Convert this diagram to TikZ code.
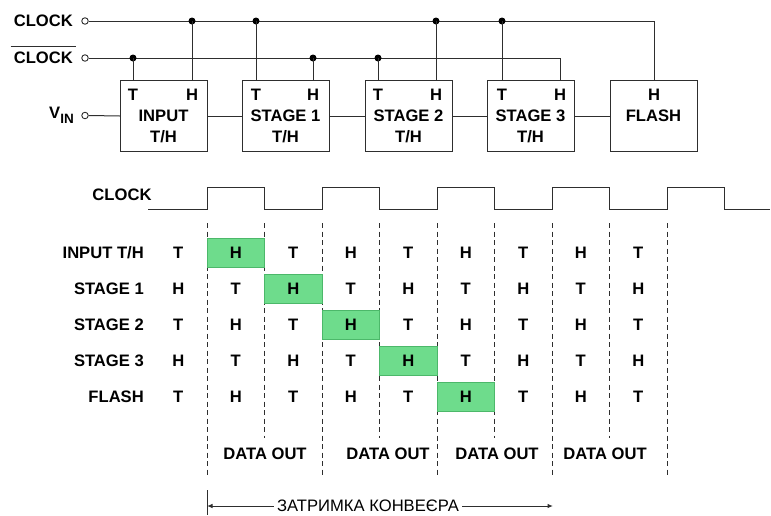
\documentclass[tikz,border=0pt]{standalone}
\usepackage{fontspec}
\setmainfont{Liberation Sans}
\usetikzlibrary{arrows.meta}
\definecolor{hold}{HTML}{6EDC8C}
\definecolor{holdline}{HTML}{4CB86A}
\definecolor{wirec}{HTML}{2E2E2E}
\begin{document}
\begin{tikzpicture}[x=1pt,y=-1pt,
  lbl/.style={inner sep=0pt, font=\fontsize{16.6}{19}\selectfont\bfseries, text height=11.8pt, text depth=0pt},
  plain/.style={inner sep=0pt, font=\fontsize{16.6}{19}\selectfont, text height=11.8pt, text depth=0pt},
  blk/.style={draw=wirec, line width=1pt, minimum width=87pt, minimum height=71pt, inner sep=0pt, anchor=north west},
  wire/.style={draw=wirec, line width=1pt},
  term/.style={circle, draw=wirec, line width=0.9pt, fill=white, minimum size=6.5pt, inner sep=0pt},
  jdot/.style={circle, fill=black, minimum size=7pt, inner sep=0pt},
  cell/.style={lbl, minimum width=57.5pt, minimum height=29pt},
  hl/.style={fill=hold, draw=holdline, line width=0.8pt},
  grid/.style={draw=wirec, line width=0.9pt, dash pattern=on 5pt off 3.5pt},
  tip/.style={-{Latex[length=5.5pt,width=4.5pt]}}
]
\useasboundingbox (0,0) rectangle (771,515);

% ---------- block diagram ----------
\node[lbl, anchor=east] (lclk) at (73,21) {CLOCK};
\node[lbl, anchor=east] (lclkb) at (73,58) {CLOCK};
\draw[wirec, line width=1pt] ([shift={(-3pt,5pt)}]lclkb.north west) -- ([shift={(3pt,5pt)}]lclkb.north east);
\node[lbl, anchor=east] (lvin) at (74,113) {V\raisebox{-5pt}{\fontsize{13.5}{15}\selectfont IN}};

\node[term] (tclk) at (85,21) {};
\node[term] (tclkb) at (85,58) {};
\node[term] (tvin) at (85,115.5) {};

\node[blk] (in) at (120,80) {};
\node[blk] (s1) at (242,80) {};
\node[blk] (s2) at (365,80) {};
\node[blk] (s3) at (487,80) {};
\node[blk] (fl) at (610,80) {};

% pins
\coordinate (inT) at (133,80);  \coordinate (inH) at (192,80);
\coordinate (s1T) at (256,80);  \coordinate (s1H) at (313,80);
\coordinate (s2T) at (378,80);  \coordinate (s2H) at (436,80);
\coordinate (s3T) at (502,80);  \coordinate (s3H) at (560,80);
\coordinate (flH) at (fl.north);

% pin labels
\foreach \p/\t in {inT/T, inH/H, s1T/T, s1H/H, s2T/T, s2H/H, s3T/T, s3H/H, flH/H}
  \node[lbl] (p\p) at ([yshift=-15pt]\p) {\t};

% block names
\node[lbl] (nin1) at (163.5,116) {INPUT};   \node[lbl] (nin2) at (163.5,137) {T/H};
\node[lbl] (ns11) at (285.5,116) {STAGE 1}; \node[lbl] (ns12) at (285.5,137) {T/H};
\node[lbl] (ns21) at (408.5,116) {STAGE 2}; \node[lbl] (ns22) at (408.5,137) {T/H};
\node[lbl] (ns31) at (530.5,116) {STAGE 3}; \node[lbl] (ns32) at (530.5,137) {T/H};
\node[lbl] (nfl) at (653.5,116) {FLASH};

% clock buses
\draw[wire] (tclk.east) -- (flH |- tclk) -- (flH);
\draw[wire] (tclkb.east) -- (s3H |- tclkb) -- (s3H);

% junctions
\foreach \n/\pin in {dA/inH, dB/s1T, dC/s2H, dD/s3T}{
  \node[jdot] (\n) at (\pin |- tclk) {};
  \draw[wire] (\n.center) -- (\pin);
}
\foreach \n/\pin in {dE/inT, dF/s1H, dG/s2T}{
  \node[jdot] (\n) at (\pin |- tclkb) {};
  \draw[wire] (\n.center) -- (\pin);
}

% signal chain
\draw[wire] (tvin.east) -- (in.west);
\draw[wire] (in.east) -- (s1.west);
\draw[wire] (s1.east) -- (s2.west);
\draw[wire] (s2.east) -- (s3.west);
\draw[wire] (s3.east) -- (fl.west);

% ---------- timing diagram ----------
\node[lbl] (tclklbl) at (122,195) {CLOCK};
\draw[wire] (148,209) -| (207,187) -| (264.5,209) -| (322,187) -| (379.5,209)
  -| (437,187) -| (494.5,209) -| (552,187) -| (609.5,209) -| (667,187) -| (724.5,209) -- (770,209);

% dashed grid
\foreach \k in {0,...,8}{
  \pgfmathsetmacro{\xx}{207+57.5*\k}
  \pgfmathsetmacro{\yy}{mod(\k,2)==0 ? 477 : 438}
  \draw[grid] (\xx,223) -- (\xx,\yy);
}

% row labels
\foreach \r/\name in {0/{INPUT T/H}, 1/{STAGE 1}, 2/{STAGE 2}, 3/{STAGE 3}, 4/{FLASH}}
  \node[lbl, anchor=east] (row\r) at (144,252.5+36*\r) {\name};

% cells
\foreach \r in {0,...,4}{
  \foreach \c in {0,...,8}{
    \pgfmathtruncatemacro{\pty}{mod(\r+\c,2)}
    \pgfmathtruncatemacro{\hi}{\c==\r+1 ? 1 : 0}
    \ifnum\hi=1
      \node[cell, hl] (c-\r-\c) at (178.25+57.5*\c, 252.5+36*\r) {H};
    \else
      \ifnum\pty=0
        \node[cell] (c-\r-\c) at (178.25+57.5*\c, 252.5+36*\r) {T};
      \else
        \node[cell] (c-\r-\c) at (178.25+57.5*\c, 252.5+36*\r) {H};
      \fi
    \fi
  }
}

% data out
\node[lbl] (do1) at (265,454) {DATA OUT};
\node[lbl] (do2) at (388,454) {DATA OUT};
\node[lbl] (do3) at (497,454) {DATA OUT};
\node[lbl] (do4) at (605,454) {DATA OUT};

% pipeline delay
\node[plain, inner xsep=3pt] (pd) at (368,506) {ЗАТРИМКА КОНВЕЄРА};
\coordinate (pdL) at (207,506);
\coordinate (pdR) at (553,506);
\coordinate (tickA) at (207,490);
\coordinate (tickB) at (207,515);
\draw[wire] (tickA) -- (tickB);
\draw[wire, tip] (pd.west) -- (pdL);
\draw[wire, tip] (pd.east) -- (pdR);
\end{tikzpicture}
\end{document}
